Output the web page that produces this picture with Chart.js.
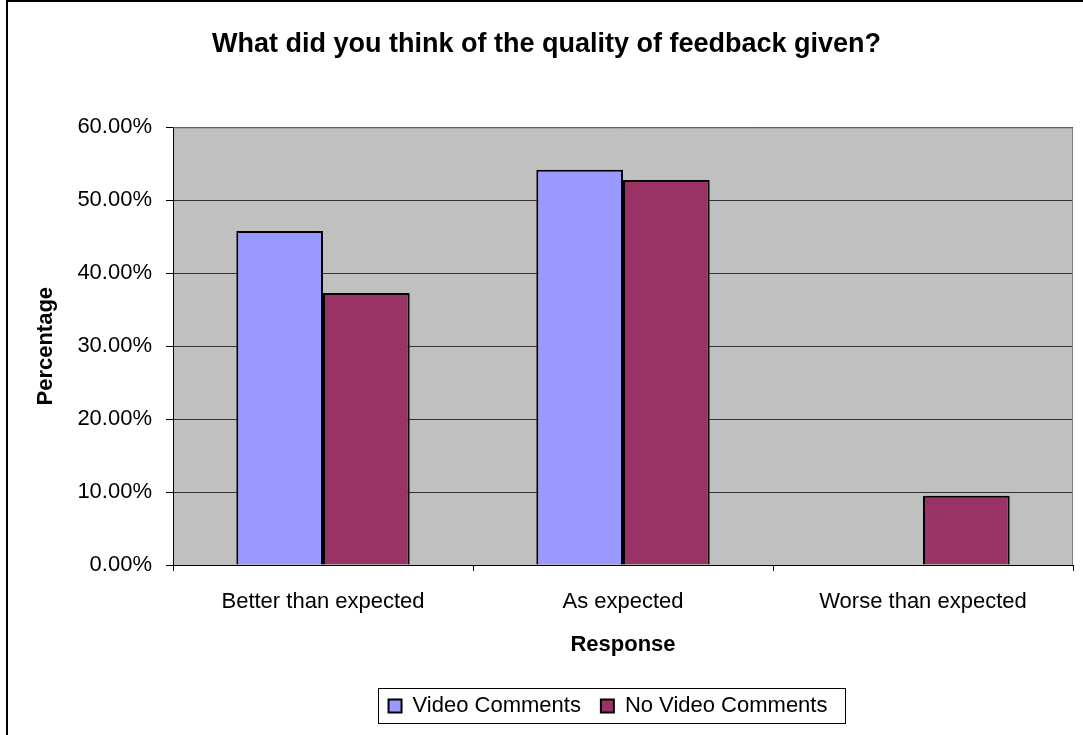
<!DOCTYPE html>
<html>
<head>
<meta charset="utf-8">
<title>Quality of feedback</title>
<script src="https://cdn.jsdelivr.net/npm/chart.js@4.4.1/dist/chart.umd.min.js"></script>
<style>
    body { margin: 0; background: #fff; }
    #chart-wrap { width: 1083px; height: 735px; }
</style>
</head>
<body>
<div id="chart-wrap"><canvas id="feedback-chart" width="1083" height="735"></canvas></div>
<script>
const categories = ['Better than expected', 'As expected', 'Worse than expected'];
const videoComments = [45.8, 54.2, 0];
const noVideoComments = [37.3, 52.8, 9.5];
const seriesNames = ['Video Comments', 'No Video Comments'];
const yTicks = [0, 10, 20, 30, 40, 50, 60];

const FONT = '"Liberation Sans", Arial, sans-serif';

class Main {
    constructor() {
        this.canvas = document.getElementById('feedback-chart');
        this.initChart();
    }

    // grey plot area, legend frame, outer frame
    framePlugin() {
        return {
            id: 'frames',
            afterLayout(chart) {
                const area = chart.chartArea;
                const legend = chart.legend;
                const dx = (area.left + area.right) / 2 - (legend.left + legend.right) / 2 - 15;
                legend.left += dx;
                legend.right += dx;
            },
            beforeDraw(chart) {
                const {ctx, chartArea: a} = chart;
                ctx.save();
                ctx.fillStyle = '#C0C0C0';
                ctx.fillRect(a.left, a.top, a.right - a.left, a.bottom - a.top);
                ctx.restore();
            },
            beforeDatasetsDraw(chart) {
                const {ctx, chartArea: a} = chart;
                ctx.save();
                ctx.strokeStyle = '#808080';
                ctx.lineWidth = 1;
                ctx.beginPath();
                ctx.moveTo(a.left, a.top + 0.5);
                ctx.lineTo(a.right - 0.5, a.top + 0.5);
                ctx.lineTo(a.right - 0.5, a.bottom);
                ctx.stroke();
                ctx.restore();
            },
            afterDraw(chart) {
                const ctx = chart.ctx;
                const boxes = chart.legend.legendHitBoxes;
                ctx.save();
                ctx.strokeStyle = '#000';
                ctx.lineWidth = 1;
                if (boxes && boxes.length) {
                    const first = boxes[0];
                    const last = boxes[boxes.length - 1];
                    const x0 = Math.round(first.left - 11) + 0.5;
                    const x1 = Math.round(last.left + last.width + 18) + 0.5;
                    const y0 = Math.round(first.top - 7) + 0.5;
                    const y1 = Math.round(first.top + first.height + 6) + 0.5;
                    ctx.strokeRect(x0, y0, x1 - x0, y1 - y0);
                }
                ctx.lineWidth = 2;
                ctx.strokeRect(7, 1, 1200, 900);
                ctx.restore();
            }
        };
    }

    initChart() {
        const config = {
            type: 'bar',
            data: {
                labels: categories,
                datasets: [
                    {
                        label: seriesNames[0],
                        data: videoComments,
                        backgroundColor: '#9999FF',
                        borderColor: '#000',
                        borderWidth: 2,
                        categoryPercentage: 0.578,
                        barPercentage: 1
                    },
                    {
                        label: seriesNames[1],
                        data: noVideoComments,
                        backgroundColor: '#993366',
                        borderColor: '#000',
                        borderWidth: 2,
                        categoryPercentage: 0.578,
                        barPercentage: 1
                    }
                ]
            },
            options: {
                responsive: false,
                animation: false,
                layout: { padding: { left: 20, right: 10, top: 0, bottom: 8 } },
                scales: {
                    x: {
                        grid: {
                            display: true,
                            drawOnChartArea: false,
                            offset: true,
                            tickLength: 6,
                            color: '#000',
                            tickColor: '#000'
                        },
                        border: { display: true, color: '#000', width: 1 },
                        ticks: {
                            color: '#000',
                            font: { family: FONT, size: 22 },
                            padding: 18
                        },
                        title: {
                            display: true,
                            text: 'Response',
                            color: '#000',
                            font: { family: FONT, size: 22, weight: 'bold' },
                            padding: { top: 4, bottom: 17 }
                        },
                        afterFit: (scale) => { scale.height = 110; }
                    },
                    y: {
                        min: yTicks[0],
                        max: yTicks[yTicks.length - 1],
                        afterBuildTicks: (scale) => { scale.ticks = yTicks.map(v => ({ value: v })); },
                        grid: {
                            color: '#333',
                            lineWidth: 1,
                            tickLength: 7,
                            tickColor: '#000'
                        },
                        border: { display: true, color: '#000', width: 1 },
                        ticks: {
                            color: '#000',
                            font: { family: FONT, size: 22 },
                            padding: 14,
                            callback: (v) => v.toFixed(2) + '%'
                        },
                        title: {
                            display: true,
                            text: 'Percentage',
                            color: '#000',
                            font: { family: FONT, size: 22, weight: 'bold' },
                            padding: { top: 13, bottom: 4 }
                        },
                        afterFit: (scale) => { scale.width = 153; }
                    }
                },
                plugins: {
                    title: {
                        display: true,
                        text: 'What did you think of the quality of feedback given?',
                        color: '#000',
                        font: { family: FONT, size: 27, weight: 'bold' },
                        padding: { top: 28, bottom: 67 }
                    },
                    legend: {
                        position: 'bottom',
                        labels: {
                            color: '#000',
                            font: { family: FONT, size: 22 },
                            boxWidth: 13,
                            boxHeight: 13,
                            padding: 20
                        }
                    },
                    tooltip: { enabled: false }
                }
            },
            plugins: [this.framePlugin()]
        };
        new Chart(this.canvas, config);
    }
}

window.onload = () => {
    new Main();
}
</script>
</body>
</html>
